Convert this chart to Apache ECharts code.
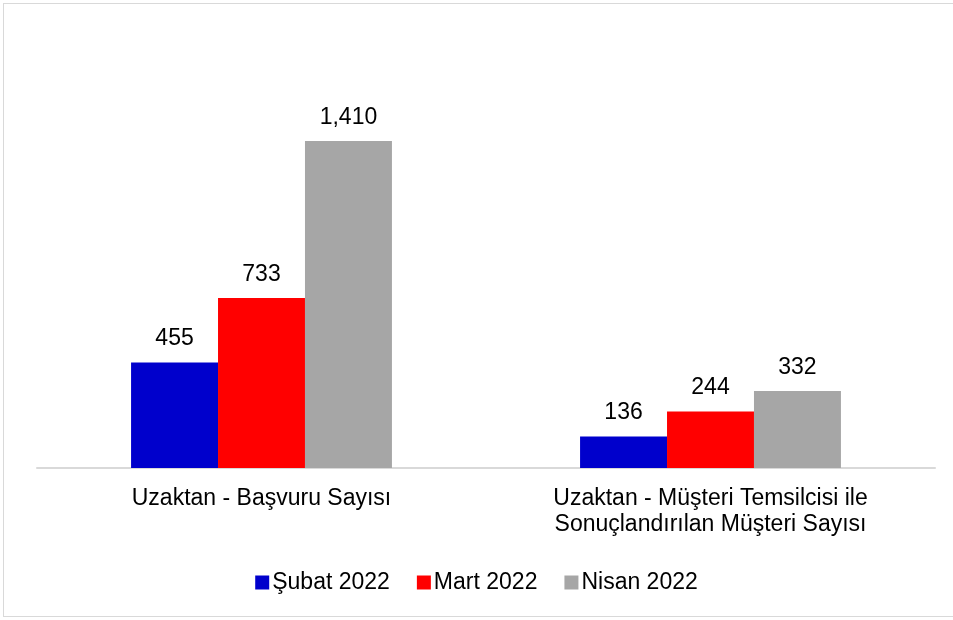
<!DOCTYPE html>
<html>
<head>
<meta charset="utf-8">
<script src="https://cdn.jsdelivr.net/npm/echarts@6/dist/echarts.min.js"></script>
<style>
  html, body { margin: 0; padding: 0; background: #fff; }
  #frame { position: absolute; left: 3px; top: 3px; width: 960px; height: 614px; border: 1px solid #d9d9d9; box-sizing: border-box; }
  #chart { position: absolute; left: 0; top: 0; width: 953px; height: 620px; }
</style>
</head>
<body>
<div id="frame"></div>
<div id="chart"></div>
<script>
  // categories and series values
  const categories = ['Uzaktan - Başvuru Sayısı', 'Uzaktan - Müşteri Temsilcisi ile\nSonuçlandırılan Müşteri Sayısı'];
  const seriesNames = ['Şubat 2022', 'Mart 2022', 'Nisan 2022'];
  const subat = [455, 136];
  const mart = [733, 244];
  const nisan = [1410, 332];
  const colors = ['#0000CC', '#FF0000', '#A6A6A6'];

  const chart = echarts.init(document.getElementById('chart'), null, { renderer: 'canvas' });
  const font = 'Liberation Sans, Arial, sans-serif';
  const mk = (name, data, color) => ({
    name, type: 'bar', data, barGap: '0%', barCategoryGap: '41.9%',
    itemStyle: { color },
    label: {
      show: true, position: 'top', distance: 12, color: '#000', fontSize: 23, fontFamily: font,
      formatter: (p) => p.value.toLocaleString('en-US'),
    },
  });

  chart.setOption({
    backgroundColor: 'transparent',
    animation: false,
    color: colors,
    grid: { left: 37, right: 18, top: 4, bottom: 152 },
    legend: {
      bottom: 21, left: 'center', itemWidth: 14, itemHeight: 14, itemGap: 27, icon: 'rect',
      textStyle: { fontSize: 23, color: '#000', fontFamily: font, padding: [0, 0, 0, -2] },
      data: seriesNames,
    },
    xAxis: {
      type: 'category', data: categories,
      axisLine: { lineStyle: { color: '#d9d9d9', width: 2 } },
      axisTick: { show: false },
      axisLabel: { color: '#000', fontSize: 23, fontFamily: font, margin: 18, lineHeight: 26, interval: 0 },
    },
    yAxis: { type: 'value', min: 0, max: 2000, show: false, splitLine: { show: false } },
    series: [
      mk(seriesNames[0], subat, colors[0]),
      mk(seriesNames[1], mart, colors[1]),
      mk(seriesNames[2], nisan, colors[2]),
    ],
  });
</script>
</body>
</html>
